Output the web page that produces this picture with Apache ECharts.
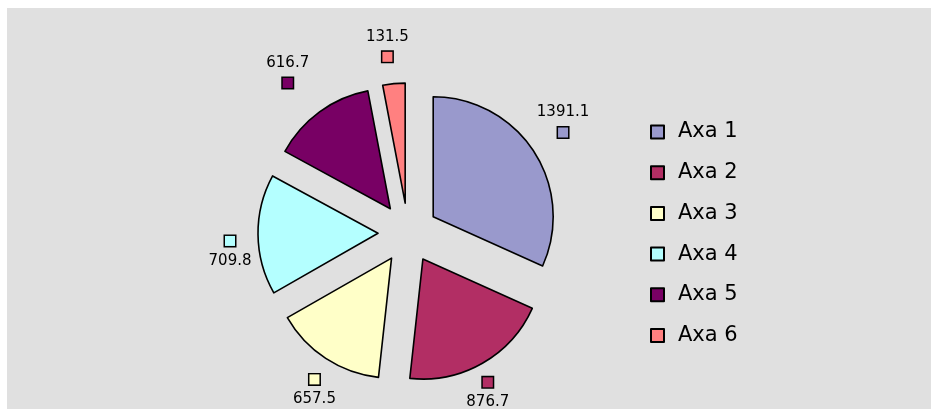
<!DOCTYPE html>
<html>
<head>
<meta charset="utf-8">
<script src="https://cdn.jsdelivr.net/npm/echarts@6/dist/echarts.min.js"></script>
<style>
  html, body { margin: 0; padding: 0; background: #ffffff; }
  #chart { position: absolute; left: 7px; top: 8px; width: 924px; height: 401px; background: #e0e0e0; }
</style>
</head>
<body>
<div id="chart"></div>
<script>
// 数据
const names = ['Axa 1', 'Axa 2', 'Axa 3', 'Axa 4', 'Axa 5', 'Axa 6'];
const values = [1391.1, 876.7, 657.5, 709.8, 616.7, 131.5];
const colors = ['#9999cc', '#b22e64', '#ffffc8', '#b4ffff', '#780064', '#ff8080'];
// 标签微调（像素）
const labelShift = [[-2, -9], [-13, -3], [9, 0], [9, 16], [-10, -9], [-3, 0]];

const START = 90;
const total = values.reduce((a, b) => a + b, 0);

// 每个扇区中线是否在上半部分（决定数值在方块上面还是下面）
const upper = [];
let acc = 0;
for (let i = 0; i < values.length; i++) {
  const mid = START - (acc + values[i] / 2) / total * 360;
  upper.push(Math.sin(mid * Math.PI / 180) > 0);
  acc += values[i];
}

const rich = {
  v: { fontFamily: 'DejaVu Sans', fontSize: 15, color: '#000', lineHeight: 20, align: 'center' }
};
colors.forEach((c, i) => {
  rich['sq' + i] = {
    width: 10, height: 10, backgroundColor: c,
    borderColor: '#000', borderWidth: 1.5, lineHeight: 20, align: 'center'
  };
});

const chart = echarts.init(document.getElementById('chart'), null, { renderer: 'canvas' });

const option = {
  animation: false,
  color: colors,
  legend: {
    orient: 'vertical',
    left: 643,
    top: 113,
    padding: 0,
    itemWidth: 13,
    itemHeight: 13,
    itemGap: 18.7,
    data: names,
    icon: 'rect',
    selectedMode: false,
    textStyle: { fontFamily: 'DejaVu Sans', fontSize: 21, color: '#000', lineHeight: 22, padding: [0, 0, 0, 9] }
  },
  series: [{
    type: 'pie',
    center: [401, 225],
    radius: [0, 120],
    startAngle: START,
    selectedMode: 'multiple',
    selectedOffset: 30,
    silent: true,
    label: { show: false },
    labelLine: { show: false },
    itemStyle: { borderColor: '#000', borderWidth: 1.6 },
    select: { itemStyle: { borderColor: '#000', borderWidth: 1.6 } },
    emphasis: { disabled: true },
    data: names.map((n, i) => ({ name: n, value: values[i], selected: true }))
  }, {
    // 透明圆环，只用来放数据标签
    type: 'pie',
    center: [401, 225],
    radius: [183, 185],
    startAngle: START,
    silent: true,
    legendHoverLink: false,
    itemStyle: { color: 'rgba(0,0,0,0)', borderWidth: 0 },
    emphasis: { disabled: true },
    labelLine: { show: false },
    label: {
      show: true,
      position: 'inside',
      rich: rich,
      formatter: p => upper[p.dataIndex]
        ? '{v|' + values[p.dataIndex] + '}\n{sq' + p.dataIndex + '|}'
        : '{sq' + p.dataIndex + '|}\n{v|' + values[p.dataIndex] + '}'
    },
    data: names.map((n, i) => ({ name: n, value: values[i], label: { offset: labelShift[i] } }))
  }]
};

chart.setOption(option);
</script>
</body>
</html>
